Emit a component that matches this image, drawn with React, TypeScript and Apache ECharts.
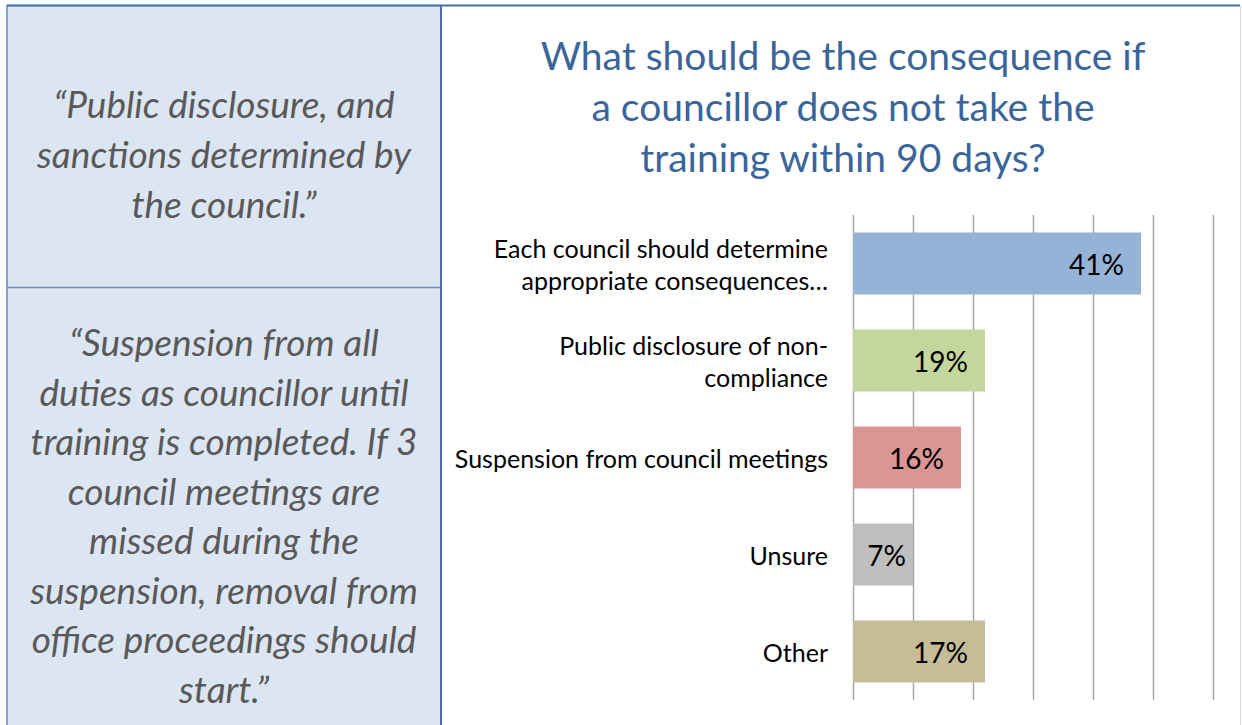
import React, { useEffect, useRef } from "react";
import * as echarts from "echarts";

const titleLines = [
  "What should be the consequence if",
  "a councillor does not take the",
  "training within 90 days?",
];
const quoteOne = ["“Public disclosure, and", "sanctions determined by", "the council.”"];
const quoteTwo = [
  "“Suspension from all",
  "duties as councillor until",
  "training is completed. If 3",
  "council meetings are",
  "missed during the",
  "suspension, removal from",
  "office proceedings should",
  "start.”",
];
const categories = [
  "Each council should determine\nappropriate consequences…",
  "Public disclosure of non-\ncompliance",
  "Suspension from council meetings",
  "Unsure",
  "Other",
];
const barValues = [48, 22, 18, 10, 22];
const valueLabels = ["41%", "19%", "16%", "7%", "17%"];
const barColors = ["#95B3D7", "#C3D69B", "#D99694", "#BFBFBF", "#C4BD97"];
const axisMin = 0;
const axisMax = 60;
const axisInterval = 10;

export default function App() {
  const ref = useRef<HTMLDivElement>(null);
  useEffect(() => {
    if (!ref.current) return;
    const chart = echarts.init(ref.current, null, { renderer: "svg" });
    const quoteFont = "italic 37px Lato";
    chart.setOption({
      animation: false,
      backgroundColor: "#ffffff",
      grid: { left: 853, top: 215, width: 360, height: 485, containLabel: false },
      xAxis: {
        type: "value",
        min: axisMin,
        max: axisMax,
        interval: axisInterval,
        axisLabel: { show: false },
        axisLine: { show: false },
        axisTick: { show: false },
        splitLine: { show: true, lineStyle: { color: "#A3A3A3", width: 1.4 } },
      },
      yAxis: {
        type: "category",
        data: categories,
        inverse: true,
        axisLine: { show: false },
        axisTick: { show: false },
        axisLabel: {
          margin: 25,
          fontFamily: "Lato",
          fontSize: 25,
          lineHeight: 32,
          color: "#000000",
          align: "right",
        },
      },
      series: [
        {
          type: "bar",
          barCategoryGap: "36%",
          data: barValues.map((v, i) => ({
            value: v,
            itemStyle: { color: barColors[i] },
            // short bars: the label does not fit with the full padding
            label: { distance: v <= axisInterval ? 7 : 17 },
          })),
          label: {
            show: true,
            position: "insideRight",
            distance: 17,
            fontFamily: "Lato",
            fontSize: 28,
            color: "#000000",
            formatter: (p: any) => valueLabels[p.dataIndex],
          },
        },
      ],
      graphic: [
        {
          type: "rect",
          z: 0,
          shape: { x: 7, y: 5.5, width: 434, height: 740 },
          style: { fill: "#DCE6F2", stroke: "#6A8BBE", lineWidth: 1.5 },
        },
        {
          type: "line",
          shape: { x1: 7, y1: 287.5, x2: 441, y2: 287.5 },
          style: { stroke: "#6A8BBE", lineWidth: 1.5 },
        },
        {
          type: "line",
          shape: { x1: 441, y1: 5, x2: 441, y2: 725 },
          style: { stroke: "#4F73A8", lineWidth: 2 },
        },
        {
          type: "line",
          shape: { x1: 7, y1: 5.5, x2: 1240, y2: 5.5 },
          style: { stroke: "#4A6FA5", lineWidth: 2 },
        },
        {
          type: "line",
          shape: { x1: 1240.5, y1: 6, x2: 1240.5, y2: 725 },
          style: { stroke: "#D9D9D9", lineWidth: 1 },
        },
        {
          type: "text",
          x: 224,
          y: 153,
          style: {
            text: quoteOne.join("\n"),
            font: quoteFont,
            fill: "#595959",
            align: "center",
            verticalAlign: "middle",
            lineHeight: 50,
          },
        },
        {
          type: "text",
          x: 224,
          y: 515,
          style: {
            text: quoteTwo.join("\n"),
            font: quoteFont,
            fill: "#595959",
            align: "center",
            verticalAlign: "middle",
            lineHeight: 49.5,
          },
        },
        {
          type: "text",
          x: 843,
          y: 106,
          style: {
            text: titleLines.join("\n"),
            font: "39px Lato",
            fill: "#3A659B",
            align: "center",
            verticalAlign: "middle",
            lineHeight: 51,
          },
        },
      ],
    });
    return () => chart.dispose();
  }, []);
  return (
    <div
      ref={ref}
      style={{ position: "fixed", left: 0, top: 0, width: 1242, height: 725, background: "#fff" }}
    />
  );
}
